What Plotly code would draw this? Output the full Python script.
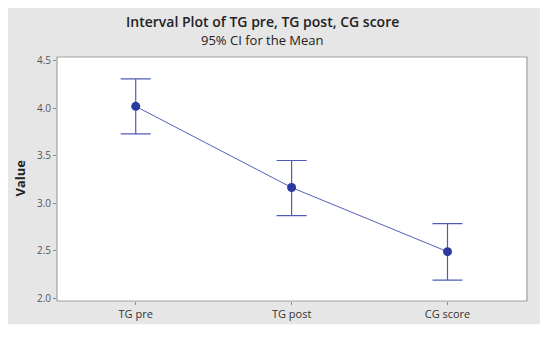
import plotly.graph_objects as go

categories = ["TG pre", "TG post", "CG score"]
means = [4.02, 3.165, 2.49]
ci_upper = [4.31, 3.45, 2.785]
ci_lower = [3.73, 2.87, 2.19]
y_ticks = [2.0, 2.5, 3.0, 3.5, 4.0, 4.5]
y_tick_labels = ["2.0", "2.5", "3.0", "3.5", "4.0", "4.5"]

err_plus = [u - m for u, m in zip(ci_upper, means)]
err_minus = [m - l for m, l in zip(means, ci_lower)]

x_idx = list(range(len(categories)))

fig = go.Figure()
fig.add_trace(go.Scatter(
    x=x_idx, y=means, mode="lines+markers",
    line=dict(color="#5560b8", width=1),
    marker=dict(color="#2b3aa0", size=9),
    error_y=dict(type="data", symmetric=False, array=err_plus, arrayminus=err_minus,
                 color="#4f5cb4", thickness=1.2, width=15),
    showlegend=False,
))

# page has an 8px body margin; figure coordinates are page coordinates minus 8
OFF = 8
W, H = 534, 325
ml, mr, mt, mb = 49, 15, 49, 23
pw = W - ml - mr
ph = H - mt - mb

def px(xp):
    return (xp - OFF - ml) / pw

def py(yp):
    return (H - mb - (yp - OFF)) / ph

fig.add_shape(type="rect", xref="paper", yref="paper",
              x0=px(7), x1=px(540), y0=py(334), y1=py(6),
              fillcolor="#e6e6e6", line=dict(width=0), layer="below")
fig.add_shape(type="rect", xref="paper", yref="paper",
              x0=0, x1=1, y0=0, y1=1,
              fillcolor="white", line=dict(color="#a0a0a0", width=1.2), layer="below")

fig.add_annotation(text="Interval Plot of TG pre, TG post, CG score", xref="paper", yref="paper",
                   x=px(262), y=py(20.5), showarrow=False, xanchor="center", yanchor="middle",
                   font=dict(family="Open Sans", size=14, color="#222222", weight=600))
fig.add_annotation(text="95% CI for the Mean", xref="paper", yref="paper",
                   x=px(262), y=py(39.5), showarrow=False, xanchor="center", yanchor="middle",
                   font=dict(family="Open Sans", size=13, color="#222222"))
fig.add_annotation(text="<b>Value</b>", xref="paper", yref="paper",
                   x=px(20), y=py(183), showarrow=False, xanchor="center", yanchor="middle",
                   textangle=-90, font=dict(family="Open Sans", size=13, color="#222222"))

fig.update_layout(
    width=W, height=H,
    margin=dict(l=ml, r=mr, t=mt, b=mb),
    paper_bgcolor="white", plot_bgcolor="white",
    font=dict(family="Open Sans", color="#333333"),
    xaxis=dict(range=[-0.505, 2.51], tickmode="array", tickvals=x_idx, ticktext=categories,
               showgrid=False, zeroline=False, ticks="outside", ticklen=3, tickcolor="#888888",
               tickfont=dict(size=11, color="#333333"), showline=False),
    yaxis=dict(range=[1.97, 4.54], tickmode="array", tickvals=y_ticks, ticktext=y_tick_labels,
               showgrid=False, zeroline=False, ticks="outside", ticklen=3, tickcolor="#888888",
               tickfont=dict(size=10, color="#555555"), showline=False),
)

fig.write_html("out.html")
